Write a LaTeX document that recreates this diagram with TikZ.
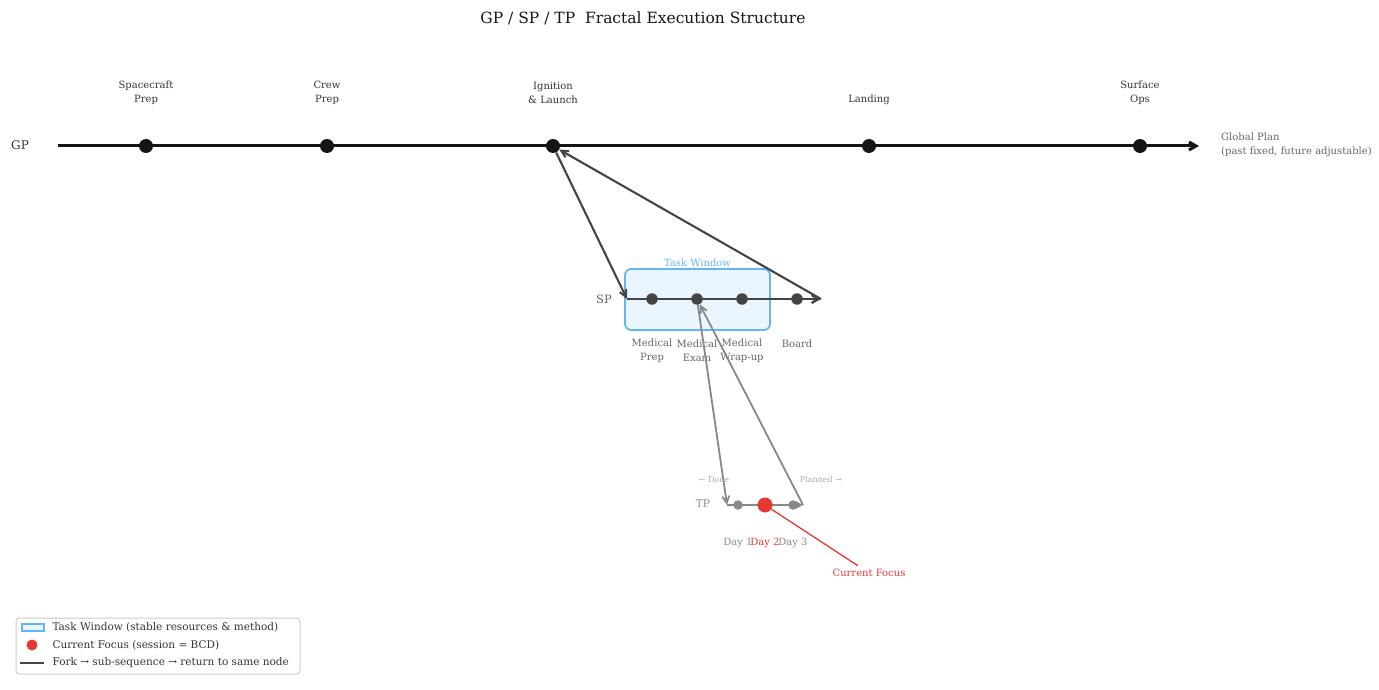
\documentclass[tikz,border=0pt]{standalone}
\usepackage{fontspec}
\setmainfont{DejaVu Serif}
\usetikzlibrary{arrows.meta}

\definecolor{gpblack}{HTML}{151515}
\definecolor{spgray}{HTML}{444444}
\definecolor{tpgray}{HTML}{888888}
\definecolor{winblue}{HTML}{64B5F6}
\definecolor{winfill}{HTML}{EBF5FD}
\definecolor{focusred}{HTML}{E53935}
\definecolor{txtdark}{HTML}{333333}
\definecolor{txtmid}{HTML}{666666}
\definecolor{txtfaint}{HTML}{AAAAAA}

\tikzset{
  gpline/.style={line width=3pt, gpblack, -{Straight Barb[length=7pt,width=8pt]}},
  spline/.style={line width=2.4pt, spgray, -{Straight Barb[length=7pt,width=8pt]}},
  tpline/.style={line width=1.8pt, tpgray, -{Triangle[length=7pt,width=7pt]}},
  fork/.style={line width=2.1pt, spgray, -{Straight Barb[length=7pt,width=7pt]}},
  subfork/.style={line width=1.8pt, tpgray, -{Straight Barb[length=7pt,width=7pt]}},
  gpdot/.style={circle, fill=gpblack, inner sep=0pt, minimum size=14pt},
  spdot/.style={circle, fill=spgray, inner sep=0pt, minimum size=11.5pt},
  tpdot/.style={circle, fill=tpgray, inner sep=0pt, minimum size=9.5pt},
  focusdot/.style={circle, fill=focusred, inner sep=0pt, minimum size=15pt},
  window/.style={draw=winblue, fill=winfill, line width=1.8pt, rounded corners=6pt,
    minimum width=145pt, minimum height=61pt, inner sep=0pt},
  gplbl/.style={font=\fontsize{10}{14}\selectfont, text=txtdark, align=center},
  splbl/.style={font=\fontsize{10}{14}\selectfont, text=txtmid, align=center},
  tplbl/.style={font=\fontsize{10}{13}\selectfont, text=tpgray},
  hint/.style={font=\fontsize{8}{10}\selectfont, text=txtfaint},
  leglbl/.style={font=\fontsize{10.5}{13}\selectfont, text=txtdark, anchor=west}
}

\begin{document}
\begin{tikzpicture}[x=1pt,y=-1pt]
\useasboundingbox (0,0) rectangle (1379,690);

% Titre
\node[font=\fontsize{15.5}{19}\selectfont, text=gpblack] (title) at (643,18)
{GP / SP / TP~~Fractal Execution Structure};

% Niveau GP
\node[font=\fontsize{12}{14}\selectfont, text=txtdark] (gplabel) at (20,145) {GP};
\coordinate (gpstart) at (58,146);
\coordinate (gpend) at (1199,146);
\draw[gpline] (gpstart) -- (gpend);

\foreach \x/\n in {146/1,327/2,553/3,869/4,1140/5}
{
\node[gpdot] (gp\n) at (\x,146) {};
}

\node[gplbl] (gplbl1) at (146,93) {Spacecraft\\Prep};
\node[gplbl] (gplbl2) at (327,93) {Crew\\Prep};
\node[gplbl] (gplbl3) at (553,93) {Ignition\\\& Launch};
\node[gplbl] (gplbl4) at (869,100) {Landing};
\node[gplbl] (gplbl5) at (1140,93) {Surface\\Ops};

\node[splbl, align=left, anchor=west, inner sep=0pt] (gpnote) at (1221,145)
{Global Plan\\(past fixed, future adjustable)};

% Niveau SP
\node[window] (taskwin) at (697.5,299.5) {};
\node[font=\fontsize{10}{12}\selectfont, text=winblue, anchor=south, inner sep=1.5pt]
(wintitle) at (taskwin.north) {Task Window};

\node[font=\fontsize{11.5}{14}\selectfont, text=txtmid] (splabel) at (604,299) {SP};
\coordinate (spstart) at (627,299);
\coordinate (spend) at (821,299);
\draw[spline] (spstart) -- (spend);

\foreach \x/\n in {652/1,697/2,742/3,797/4}
{
\node[spdot] (sp\n) at (\x,299) {};
}

\node[splbl] (splbl1) at (652,351) {Medical\\Prep};
\node[splbl] (splbl2) at (697,351) {Medical\\Exam};
\node[splbl] (splbl3) at (742,351) {Medical\\Wrap-up};
\node[splbl] (splbl4) at (797,344) {Board};

% Fourche GP -> SP -> GP
\draw[fork] (gp3) -- (spstart);
\draw[fork] (spend) -- (gp3);

% Niveau TP
\node[font=\fontsize{10.5}{13}\selectfont, text=tpgray] (tplabel) at (703,504) {TP};
\coordinate (tpstart) at (727,505);
\coordinate (tpend) at (803,505);
\draw[tpline] (tpstart) -- (tpend);

\node[tpdot] (tp1) at (738,505) {};
\node[focusdot] (tp2) at (765,505) {};
\node[tpdot] (tp3) at (793,505) {};

\node[hint] (done) at (714,480) {← Done};
\node[hint] (planned) at (821,480) {Planned →};

\node[tplbl] (day1) at (738,543) {Day 1};
\node[tplbl, text=focusred] (day2) at (765,543) {Day 2};
\node[tplbl] (day3) at (793,543) {Day 3};

% Fourche SP -> TP -> SP
\draw[subfork] (sp2) -- (tpstart);
\draw[subfork] (tpend) -- (sp2);

% Focus courant
\node[font=\fontsize{10}{12}\selectfont, text=focusred] (focuslbl) at (869,573) {Current Focus};
\draw[focusred, line width=1.3pt] (tp2) -- (focuslbl);

% Legende
\draw[draw=black!20, fill=white, rounded corners=3pt, line width=1pt] (16,618) rectangle (300,674);
\draw[draw=winblue, fill=winfill, line width=1.5pt] (22,624) rectangle (44,631);
\node[leglbl] (leg1) at (49,627.5) {Task Window (stable resources \& method)};
\node[circle, fill=focusred, inner sep=0pt, minimum size=11pt] (legdot) at (32,645) {};
\node[leglbl] (leg2) at (49,645) {Current Focus (session = BCD)};
\coordinate (legfrom) at (20,663);
\coordinate (legto) at (44,663);
\draw[spgray, line width=1.8pt] (legfrom) -- (legto);
\node[leglbl] (leg3) at (49,662.5) {Fork → sub-sequence → return to same node};

\end{tikzpicture}
\end{document}
